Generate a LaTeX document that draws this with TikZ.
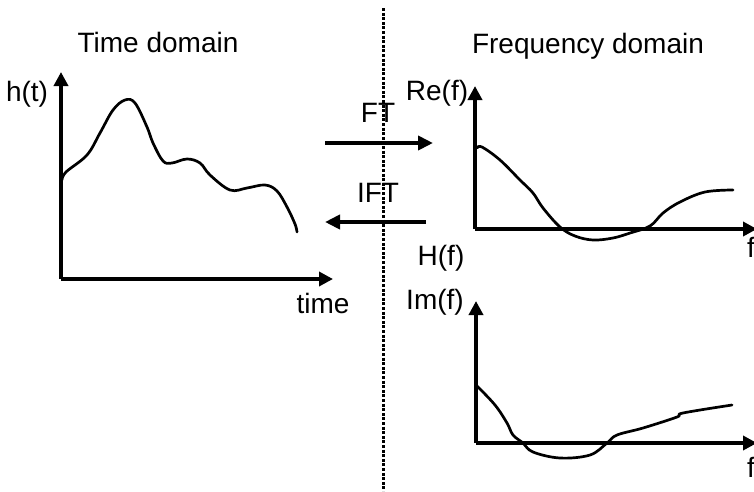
\documentclass[tikz,border=0pt]{standalone}
\usepackage{fontspec}
\setmainfont{Liberation Sans}
\usetikzlibrary{arrows.meta}
\begin{document}
\begin{tikzpicture}[x=1pt,y=-1pt,
  axis/.style={line width=3.8pt,-{Triangle[length=14pt,width=14pt]}},
  conv/.style={line width=3.8pt,-{Triangle[length=15pt,width=14pt]}},
  curve/.style={line width=2.7pt,line join=round,line cap=round},
  lbl/.style={font=\fontsize{28}{32}\selectfont,inner sep=0pt},
  sep/.style={line width=3pt,dash pattern=on 3pt off 1.6pt}]
\useasboundingbox (0,0) rectangle (754,491);
% separator
\coordinate (st) at (383,8);
\coordinate (sb) at (383,491);
\draw[sep] (st) -- (sb);
% titles
\node[lbl,anchor=base] (td) at (158,52) {Time domain};
\node[lbl,anchor=base] (fd) at (588,53) {Frequency domain};
% time plot
\coordinate (to) at (61,279);
\coordinate (ty) at (61,72);
\coordinate (tx) at (333,279);
\draw[axis] (to) -- (ty);
\draw[axis] (to) -- (tx);
\node[lbl] (ht) at (27,94) {h(t)};
\node[lbl] (time) at (323,303) {time};
\draw[curve] plot[smooth,tension=0.6] coordinates {(62,180) (66,172) (87,155) (100,133) (113,110) (125,100) (135,103) (147,127) (153,143) (163,161) (172,163) (187,159) (200,163) (210,175) (230,190) (247,188) (265,185) (277,191) (287,207) (295,224) (297,232)};
% arrows
\coordinate (fta) at (325,143);
\coordinate (ftb) at (433,143);
\draw[conv] (fta) -- (ftb);
\node[lbl] (ft) at (378,113) {FT};
\coordinate (ifta) at (426,222);
\coordinate (iftb) at (325,222);
\draw[conv] (ifta) -- (iftb);
\node[lbl] (ift) at (378,193) {IFT};
% Re plot
\coordinate (ro) at (475,229);
\coordinate (ry) at (475,86);
\coordinate (rx) at (757,229);
\draw[axis] (ro) -- (ry);
\draw[axis] (ro) -- (rx);
\node[lbl] (re) at (437,93) {Re(f)};
\node[lbl] (hf) at (441,258) {H(f)};
\node[lbl] (f1) at (751,247) {f};
\draw[curve] plot[smooth,tension=0.6] coordinates {(477,148) (482,147) (500,160) (520,180) (533,193) (543,208) (560,227) (575,236) (593,240) (613,238) (630,233) (650,226) (663,213) (680,202) (705,192) (733,190)};
% Im plot
\coordinate (io) at (476,443);
\coordinate (iy) at (476,301);
\coordinate (ix) at (757,443);
\draw[axis] (io) -- (iy);
\draw[axis] (io) -- (ix);
\node[lbl] (im) at (435,302) {Im(f)};
\node[lbl] (f2) at (751,467) {f};
\draw[curve] plot[smooth,tension=0.6] coordinates {(477,386) (495,405) (507,423) (513,435) (523,443) (533,452) (560,458) (590,455) (607,443) (617,435) (643,428) (677,417) (683,413) (732,405)};
\end{tikzpicture}
\end{document}
